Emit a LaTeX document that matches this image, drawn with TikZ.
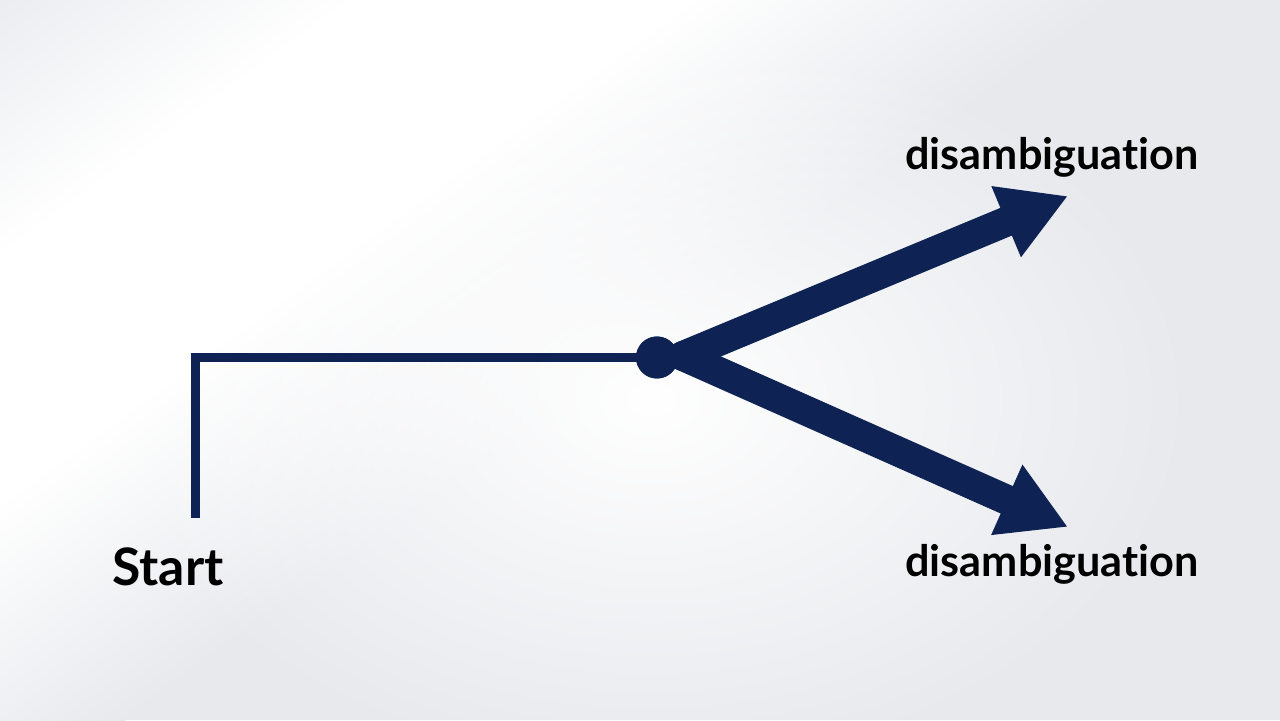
\documentclass[tikz,border=0pt]{standalone}
\usepackage{fontspec}
\setmainfont{Lato}[Ligatures={NoCommon,NoRare,NoContextual}]
\usepackage{tikz}
\usetikzlibrary{arrows.meta}
\usetikzlibrary{fadings}

\definecolor{navy}{HTML}{0E2353}
\definecolor{bggray}{HTML}{E7E9ED}
\pgfdeclarehorizontalshading{glare}{100bp}{color(0bp)=(bggray); color(25bp)=(bggray); color(43bp)=(white); color(57bp)=(white); color(75bp)=(bggray); color(100bp)=(bggray)}
\tikzfading[name=glow, inner color=transparent!0, outer color=transparent!100]

\begin{document}
\begin{tikzpicture}[
    thinline/.style={draw=navy, line width=0.18cm, line join=miter},
    branch/.style={draw=navy, line width=0.6cm, line cap=round,
        -{Triangle[length=1.34cm, width=1.44cm]}},
    label/.style={font=\bfseries, text=black, inner sep=0pt, anchor=base}
    ]
    \useasboundingbox (0,0) rectangle (25.6,14.4);

    % background
    \begin{scope}
    \clip (0,0) rectangle (25.6,14.4);
    \fill[bggray] (0,0) rectangle (25.6,14.4);
    \begin{scope}[transform canvas={shift={(5.2,10.6)}, rotate=-54}]
    \shade[shading=glare] (-7,-20) rectangle (7,20);
    \end{scope}
    \fill[white, path fading=glow] (13,6.4) ellipse (11 and 7.5);
    \end{scope}

    \coordinate (base) at (3.9,4.04);
    \node[circle, fill=navy, minimum size=0.84cm, inner sep=0pt] (fork) at (13.14,7.25) {};
    \coordinate (split) at (13.66,7.28);
    \coordinate (tipA) at (21.36,10.48);
    \coordinate (tipB) at (21.36,3.86);

    \draw[thinline] (base) |- (fork.center);
    \node[circle, fill=navy, minimum size=0.84cm, inner sep=0pt] at (fork) {};
    \draw[branch] (split) -- (tipA);
    \draw[branch] (split) -- (tipB);

    \node[label, font=\bfseries\fontsize{29.4}{30}\selectfont] (start) at (3.36,2.7) {Start};
    \node[label, font=\bfseries\fontsize{24.6}{26}\selectfont] (upper) at (21.04,11.0) {disambiguation};
    \node[label, font=\bfseries\fontsize{24.6}{26}\selectfont] (lower) at (21.04,2.86) {disambiguation};
\end{tikzpicture}
\end{document}
